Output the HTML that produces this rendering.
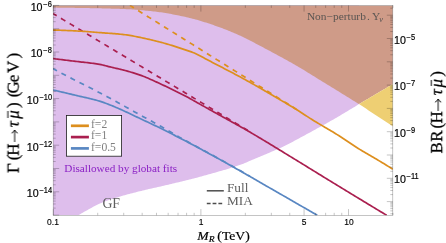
<!DOCTYPE html>
<html><head><meta charset="utf-8"><title>plot</title>
<style>
html,body{margin:0;padding:0;background:#fff;}
#c{position:relative;width:446px;height:243px;overflow:hidden;background:#fff;will-change:transform;
   font-family:"Liberation Sans",sans-serif;}
#c div{position:absolute;white-space:nowrap;line-height:1;}
.yl{font-size:11px;color:#000;-webkit-text-stroke:0.2px #000;transform:scaleX(0.97);}
.yl .sup{font-size:8.3px;position:relative;top:-4.0px;display:inline-block;transform:scaleX(0.93);transform-origin:0 50%;margin-left:0.5px;margin-right:-0.6px;}
.xl{font-size:9.1px;color:#000;-webkit-text-stroke:0.15px #000;transform:scaleX(0.93);transform-origin:50% 50%;width:40px;text-align:center;}
.xt{font-family:"Liberation Serif",serif;font-size:13.7px;color:#000;-webkit-text-stroke:0.2px #000;transform:scaleY(0.87);transform-origin:0 83.75%;}
.xt .sub{font-size:9.6px;position:relative;top:2.4px;}
.yt{font-family:"Liberation Serif",serif;font-size:17px;color:#111;
    transform:translate(-50%,-50%) rotate(-90deg);transform-origin:50% 50%;}
.arw{display:inline-block;vertical-align:-0.5px;margin:0 0.6px;}
.rt{width:243px;height:20px;transform-origin:0 0;will-change:transform;font-family:"Liberation Serif",serif;font-size:17px;color:#000;-webkit-text-stroke:0.25px #000;}
.rt .g{position:absolute;top:0;line-height:1;transform:scaleY(1.03);transform-origin:0 0.8375em;}
.rt .i{font-style:italic;}
.rt .bar{position:absolute;left:0.06em;width:0.37em;top:0.15em;height:0;border-top:0.9px solid #111;}
.mu{position:relative;}
.mu:after{content:"";position:absolute;left:22%;right:2%;top:0.20em;border-top:0.06em solid #111;}
.an{font-family:"Liberation Serif",serif;color:#5e5e5e;}
.nu{font-size:0.75em;position:relative;top:0.18em;}
</style></head>
<body><div id="c">
<svg width="446" height="243" viewBox="0 0 446 243" style="position:absolute;left:0;top:0">
<defs><clipPath id="cp"><rect x="53.2" y="5.4" width="339.6" height="209.9"/></clipPath></defs>
<g clip-path="url(#cp)">
<path d="M53.20,215.30 L78.20,215.30 L79.70,214.43 L81.20,213.57 L82.70,212.71 L84.21,211.86 L85.71,211.01 L87.21,210.17 L88.71,209.34 L90.21,208.50 L91.71,207.65 L93.22,206.82 L94.72,206.01 L96.22,205.23 L97.72,204.51 L99.22,203.81 L100.72,203.14 L102.23,202.50 L103.73,201.91 L105.23,201.35 L106.73,200.81 L108.23,200.28 L109.73,199.77 L111.24,199.27 L112.74,198.79 L114.24,198.31 L115.74,197.85 L117.24,197.39 L118.74,196.94 L120.24,196.50 L121.75,196.06 L123.25,195.62 L124.75,195.19 L126.25,194.77 L127.75,194.36 L129.25,193.95 L130.76,193.55 L132.26,193.16 L133.76,192.77 L135.26,192.38 L136.76,192.00 L138.26,191.62 L139.77,191.25 L141.27,190.88 L142.77,190.51 L144.27,190.16 L145.77,189.81 L147.27,189.46 L148.78,189.12 L150.28,188.79 L151.78,188.45 L153.28,188.12 L154.78,187.79 L156.28,187.45 L157.79,187.11 L159.29,186.77 L160.79,186.42 L162.29,186.06 L163.79,185.71 L165.29,185.36 L166.79,185.01 L168.30,184.65 L169.80,184.30 L171.30,183.94 L172.80,183.59 L174.30,183.23 L175.80,182.87 L177.31,182.51 L178.81,182.15 L180.31,181.79 L181.81,181.42 L183.31,181.06 L184.81,180.69 L186.32,180.32 L187.82,179.94 L189.32,179.57 L190.82,179.19 L192.32,178.81 L193.82,178.42 L195.33,178.04 L196.83,177.65 L198.33,177.25 L199.83,176.84 L201.33,176.43 L202.83,176.01 L204.33,175.59 L205.84,175.16 L207.34,174.74 L208.84,174.31 L210.34,173.89 L211.84,173.47 L213.34,173.05 L214.85,172.64 L216.35,172.21 L217.85,171.79 L219.35,171.37 L220.85,170.94 L222.35,170.51 L223.86,170.07 L225.36,169.63 L226.86,169.19 L228.36,168.73 L229.86,168.27 L231.36,167.80 L232.87,167.33 L234.37,166.84 L235.87,166.34 L237.37,165.84 L238.87,165.32 L240.37,164.79 L241.87,164.25 L243.38,163.67 L244.88,163.05 L246.38,162.39 L247.88,161.73 L249.38,161.07 L250.88,160.42 L252.39,159.78 L253.89,159.15 L255.39,158.52 L256.89,157.89 L258.39,157.27 L259.89,156.65 L261.40,156.02 L262.90,155.40 L264.40,154.77 L265.90,154.15 L267.40,153.52 L268.90,152.89 L270.41,152.25 L271.91,151.61 L273.41,150.97 L274.91,150.31 L276.41,149.66 L277.91,148.99 L279.41,148.31 L280.92,147.63 L282.42,146.94 L283.92,146.24 L285.42,145.52 L286.92,144.79 L288.42,144.04 L289.93,143.27 L291.43,142.47 L292.93,141.67 L294.43,140.85 L295.93,140.02 L297.43,139.20 L298.94,138.38 L300.44,137.56 L301.94,136.75 L303.44,135.94 L304.94,135.13 L306.44,134.32 L307.95,133.51 L309.45,132.70 L310.95,131.89 L312.45,131.07 L313.95,130.26 L315.45,129.44 L316.96,128.62 L318.46,127.80 L319.96,126.98 L321.46,126.15 L322.96,125.32 L324.46,124.48 L325.96,123.64 L327.47,122.80 L328.97,121.95 L330.47,121.10 L331.97,120.25 L333.47,119.38 L334.97,118.52 L336.48,117.65 L337.98,116.77 L339.48,115.89 L340.98,115.01 L342.48,114.12 L343.98,113.23 L345.49,112.33 L346.99,111.43 L348.49,110.53 L349.99,109.62 L351.49,108.71 L352.99,107.79 L354.50,106.88 L356.00,105.95 L357.50,105.03 L359.00,104.10 L359.00,5.40 L53.20,5.40Z" fill="#debeec"/>
<path d="M53.20,5.40 L53.00,7.60 L54.50,7.61 L56.00,7.62 L57.50,7.64 L59.00,7.65 L60.50,7.67 L62.00,7.69 L63.50,7.70 L65.00,7.72 L66.50,7.74 L68.00,7.76 L69.50,7.78 L71.00,7.81 L72.50,7.83 L74.00,7.85 L75.50,7.88 L77.00,7.90 L78.50,7.93 L80.00,7.95 L81.50,7.98 L83.00,8.01 L84.50,8.04 L86.00,8.06 L87.50,8.09 L89.00,8.12 L90.50,8.15 L92.00,8.18 L93.50,8.21 L95.00,8.24 L96.50,8.27 L98.00,8.30 L99.50,8.33 L101.00,8.37 L102.50,8.40 L104.00,8.44 L105.50,8.47 L107.00,8.51 L108.50,8.55 L110.00,8.59 L111.50,8.63 L113.00,8.67 L114.50,8.71 L116.00,8.76 L117.50,8.81 L119.00,8.86 L120.50,8.91 L122.00,8.97 L123.50,9.02 L125.00,9.08 L126.50,9.14 L128.00,9.21 L129.50,9.28 L131.00,9.35 L132.50,9.44 L134.00,9.54 L135.50,9.65 L137.00,9.78 L138.50,9.91 L140.00,10.05 L141.50,10.19 L143.00,10.34 L144.50,10.49 L146.00,10.64 L147.50,10.79 L149.00,10.94 L150.50,11.10 L152.00,11.26 L153.50,11.42 L155.00,11.59 L156.50,11.77 L158.00,11.95 L159.50,12.14 L161.00,12.33 L162.50,12.54 L164.00,12.75 L165.50,12.97 L167.00,13.20 L168.50,13.46 L170.00,13.75 L171.50,14.06 L173.00,14.38 L174.50,14.70 L176.00,15.01 L177.50,15.31 L179.00,15.62 L180.50,15.93 L182.00,16.24 L183.50,16.55 L185.00,16.87 L186.50,17.20 L188.00,17.54 L189.50,17.89 L191.00,18.25 L192.50,18.63 L194.00,19.02 L195.50,19.43 L197.00,19.85 L198.50,20.29 L200.00,20.73 L201.50,21.19 L203.00,21.65 L204.50,22.13 L206.00,22.61 L207.50,23.10 L209.00,23.59 L210.50,24.09 L212.00,24.60 L213.50,25.11 L215.00,25.63 L216.50,26.16 L218.00,26.69 L219.50,27.23 L221.00,27.78 L222.50,28.34 L224.00,28.91 L225.50,29.49 L227.00,30.08 L228.50,30.67 L230.00,31.28 L231.50,31.89 L233.00,32.52 L234.50,33.15 L236.00,33.80 L237.50,34.46 L239.00,35.14 L240.50,35.83 L242.00,36.54 L243.50,37.27 L245.00,38.00 L246.50,38.75 L248.00,39.51 L249.50,40.28 L251.00,41.05 L252.50,41.84 L254.00,42.62 L255.50,43.41 L257.00,44.20 L258.50,45.00 L260.00,45.79 L261.50,46.58 L263.00,47.37 L264.50,48.16 L266.00,48.94 L267.50,49.74 L269.00,50.53 L270.50,51.33 L272.00,52.14 L273.50,52.95 L275.00,53.76 L276.50,54.57 L278.00,55.39 L279.50,56.21 L281.00,57.03 L282.50,57.86 L284.00,58.68 L285.50,59.50 L287.00,60.33 L288.50,61.15 L290.00,61.98 L291.50,62.81 L293.00,63.66 L294.50,64.51 L296.00,65.38 L297.50,66.26 L299.00,67.15 L300.50,68.05 L302.00,68.96 L303.50,69.87 L305.00,70.78 L306.50,71.71 L308.00,72.63 L309.50,73.56 L311.00,74.49 L312.50,75.42 L314.00,76.36 L315.50,77.29 L317.00,78.21 L318.50,79.14 L320.00,80.06 L321.50,80.98 L323.00,81.90 L324.50,82.82 L326.00,83.74 L327.50,84.66 L329.00,85.59 L330.50,86.51 L332.00,87.43 L333.50,88.35 L335.00,89.28 L336.50,90.20 L338.00,91.12 L339.50,92.05 L341.00,92.97 L342.50,93.90 L344.00,94.82 L345.50,95.75 L347.00,96.67 L348.50,97.60 L350.00,98.53 L351.50,99.46 L353.00,100.38 L354.50,101.31 L356.00,102.24 L357.50,103.17 L359.00,104.10 L359.00,104.10 L360.54,103.19 L362.07,102.28 L363.61,101.37 L365.15,100.46 L366.68,99.55 L368.22,98.65 L369.75,97.74 L371.29,96.83 L372.83,95.92 L374.36,95.01 L375.90,94.10 L377.44,93.19 L378.97,92.28 L380.51,91.37 L382.05,90.46 L383.58,89.55 L385.12,88.65 L386.65,87.74 L388.19,86.83 L389.73,85.92 L391.26,85.01 L392.80,84.10 L392.80,5.40Z" fill="#cf9b88"/>
<path d="M359.00,104.10 L360.54,103.19 L362.07,102.28 L363.61,101.37 L365.15,100.46 L366.68,99.55 L368.22,98.65 L369.75,97.74 L371.29,96.83 L372.83,95.92 L374.36,95.01 L375.90,94.10 L377.44,93.19 L378.97,92.28 L380.51,91.37 L382.05,90.46 L383.58,89.55 L385.12,88.65 L386.65,87.74 L388.19,86.83 L389.73,85.92 L391.26,85.01 L392.80,84.10 L392.80,126.20 L391.26,125.20 L389.73,124.19 L388.19,123.19 L386.65,122.18 L385.12,121.18 L383.58,120.17 L382.05,119.17 L380.51,118.16 L378.97,117.16 L377.44,116.15 L375.90,115.15 L374.36,114.15 L372.83,113.14 L371.29,112.14 L369.75,111.13 L368.22,110.13 L366.68,109.12 L365.15,108.12 L363.61,107.11 L362.07,106.11 L360.54,105.10 L359.00,104.10Z" fill="#eecf73"/>
<path d="M53.00,68.80 L54.50,69.58 L56.01,70.36 L57.51,71.14 L59.02,71.92 L60.52,72.70 L62.02,73.48 L63.53,74.26 L65.03,75.04 L66.53,75.81 L68.04,76.58 L69.54,77.36 L71.05,78.12 L72.55,78.89 L74.05,79.66 L75.56,80.43 L77.06,81.19 L78.56,81.96 L80.07,82.72 L81.57,83.49 L83.08,84.25 L84.58,85.02 L86.08,85.79 L87.59,86.55 L89.09,87.32 L90.60,88.09 L92.10,88.86 L93.60,89.64 L95.11,90.41 L96.61,91.19 L98.11,91.97 L99.62,92.75 L101.12,93.53 L102.63,94.32 L104.13,95.11 L105.63,95.91 L107.14,96.71 L108.64,97.51 L110.15,98.32 L111.65,99.13 L113.15,99.95 L114.66,100.78 L116.16,101.60 L117.66,102.44 L119.17,103.27 L120.67,104.11 L122.18,104.95 L123.68,105.79 L125.18,106.63 L126.69,107.47 L128.19,108.32 L129.69,109.16 L131.20,110.00 L132.70,110.84 L134.21,111.67 L135.71,112.51 L137.21,113.34 L138.72,114.16 L140.22,114.99 L141.73,115.81 L143.23,116.63 L144.73,117.46 L146.24,118.28 L147.74,119.10 L149.24,119.92 L150.75,120.75 L152.25,121.57 L153.76,122.40 L155.26,123.23 L156.76,124.06 L158.27,124.90 L159.77,125.75 L161.27,126.59 L162.78,127.44 L164.28,128.31 L165.79,129.18 L167.29,130.06 L168.79,130.95 L170.30,131.84 L171.80,132.73 L173.31,133.62 L174.81,134.50 L176.31,135.38 L177.82,136.25 L179.32,137.12 L180.82,137.96 L182.33,138.80 L183.83,139.64 L185.34,140.46 L186.84,141.28 L188.34,142.10 L189.85,142.91 L191.35,143.72 L192.85,144.53 L194.36,145.34 L195.86,146.15 L197.37,146.97 L198.87,147.78 L200.37,148.60 L201.88,149.43 L203.38,150.25 L204.89,151.07 L206.39,151.89 L207.89,152.71 L209.40,153.54 L210.90,154.36 L212.40,155.18 L213.91,156.00 L215.41,156.83 L216.92,157.65 L218.42,158.48 L219.92,159.31 L221.43,160.13 L222.93,160.97 L224.44,161.80 L225.94,162.63 L227.44,163.47 L228.95,164.31 L230.45,165.15 L231.95,166.00 L233.46,166.84 L234.96,167.69 L236.47,168.55 L237.97,169.40 L239.47,170.26 L240.98,171.11 L242.48,171.97 L243.98,172.84 L245.49,173.70 L246.99,174.56 L248.50,175.43 L250.00,176.30" fill="none" stroke="#5987c2" stroke-width="1.7" stroke-dasharray="5.1 5.03" stroke-dashoffset="0.63"/>
<path d="M53.00,13.54 L54.50,14.44 L56.01,15.34 L57.51,16.25 L59.02,17.15 L60.52,18.05 L62.02,18.95 L63.53,19.86 L65.03,20.76 L66.53,21.66 L68.04,22.56 L69.54,23.47 L71.05,24.37 L72.55,25.27 L74.05,26.17 L75.56,27.07 L77.06,27.98 L78.56,28.88 L80.07,29.78 L81.57,30.68 L83.08,31.59 L84.58,32.49 L86.08,33.39 L87.59,34.29 L89.09,35.19 L90.60,36.10 L92.10,37.00 L93.60,37.90 L95.11,38.80 L96.61,39.71 L98.11,40.61 L99.62,41.51 L101.12,42.41 L102.63,43.32 L104.13,44.22 L105.63,45.12 L107.14,46.02 L108.64,46.92 L110.15,47.83 L111.65,48.73 L113.15,49.63 L114.66,50.53 L116.16,51.44 L117.66,52.34 L119.17,53.24 L120.67,54.14 L122.18,55.05 L123.68,55.95 L125.18,56.85 L126.69,57.75 L128.19,58.65 L129.69,59.56 L131.20,60.46 L132.70,61.36 L134.21,62.26 L135.71,63.17 L137.21,64.07 L138.72,64.97 L140.22,65.87 L141.73,66.78 L143.23,67.68 L144.73,68.58 L146.24,69.48 L147.74,70.38 L149.24,71.29 L150.75,72.19 L152.25,73.09 L153.76,73.99 L155.26,74.90 L156.76,75.80 L158.27,76.70 L159.77,77.60 L161.27,78.50 L162.78,79.41 L164.28,80.31 L165.79,81.21 L167.29,82.11 L168.79,83.02 L170.30,83.92 L171.80,84.82 L173.31,85.72 L174.81,86.63 L176.31,87.53 L177.82,88.43 L179.32,89.33 L180.82,90.23 L182.33,91.14 L183.83,92.04 L185.34,92.94 L186.84,93.84 L188.34,94.75 L189.85,95.65 L191.35,96.55 L192.85,97.45 L194.36,98.36 L195.86,99.26 L197.37,100.16 L198.87,101.06 L200.37,101.96 L201.88,102.87 L203.38,103.77 L204.89,104.67 L206.39,105.57 L207.89,106.48 L209.40,107.38 L210.90,108.28 L212.40,109.18 L213.91,110.09 L215.41,110.99 L216.92,111.89 L218.42,112.79 L219.92,113.69 L221.43,114.60 L222.93,115.50 L224.44,116.40 L225.94,117.30 L227.44,118.21 L228.95,119.11 L230.45,120.01 L231.95,120.91 L233.46,121.81 L234.96,122.72 L236.47,123.62 L237.97,124.52 L239.47,125.42 L240.98,126.33 L242.48,127.23 L243.98,128.13 L245.49,129.03 L246.99,129.94 L248.50,130.84 L250.00,131.74" fill="none" stroke="#aa1f4f" stroke-width="1.7" stroke-dasharray="5.1 5.03" stroke-dashoffset="0.82"/>
<path d="M129.90,5.40 L131.41,6.34 L132.91,7.28 L134.42,8.22 L135.92,9.16 L137.43,10.10 L138.93,11.03 L140.44,11.97 L141.94,12.91 L143.45,13.85 L144.95,14.79 L146.46,15.73 L147.96,16.67 L149.47,17.61 L150.97,18.55 L152.48,19.49 L153.98,20.42 L155.49,21.36 L157.00,22.30 L158.50,23.24 L160.01,24.18 L161.51,25.12 L163.02,26.06 L164.52,27.00 L166.03,27.94 L167.53,28.88 L169.04,29.81 L170.54,30.75 L172.05,31.69 L173.55,32.63 L175.06,33.57 L176.56,34.51 L178.07,35.45 L179.58,36.39 L181.08,37.33 L182.59,38.27 L184.09,39.20 L185.60,40.14 L187.10,41.08 L188.61,42.02 L190.11,42.96 L191.62,43.90 L193.12,44.84 L194.63,45.78 L196.13,46.72 L197.64,47.66 L199.14,48.59 L200.65,49.53 L202.15,50.47 L203.66,51.41 L205.17,52.35 L206.67,53.29 L208.18,54.23 L209.68,55.17 L211.19,56.11 L212.69,57.05 L214.20,57.98 L215.70,58.92 L217.21,59.86 L218.71,60.80 L220.22,61.74 L221.72,62.68 L223.23,63.62 L224.73,64.56 L226.24,65.50 L227.75,66.44 L229.25,67.37 L230.76,68.31 L232.26,69.25 L233.77,70.19 L235.27,71.13 L236.78,72.07 L238.28,73.01 L239.79,73.95 L241.29,74.89 L242.80,75.83 L244.30,76.76 L245.81,77.70 L247.31,78.64 L248.82,79.58 L250.32,80.52 L251.83,81.46 L253.34,82.40 L254.84,83.34 L256.35,84.28 L257.85,85.22 L259.36,86.16 L260.86,87.09 L262.37,88.03 L263.87,88.97 L265.38,89.91 L266.88,90.85 L268.39,91.79 L269.89,92.73 L271.40,93.67 L272.90,94.61 L274.41,95.55 L275.92,96.48 L277.42,97.42 L278.93,98.36 L280.43,99.30 L281.94,100.24 L283.44,101.18 L284.95,102.12 L286.45,103.06 L287.96,104.00 L289.46,104.94 L290.97,105.87 L292.47,106.81 L293.98,107.75 L295.48,108.69 L296.99,109.63 L298.49,110.57 L300.00,111.51" fill="none" stroke="#dd8f1e" stroke-width="1.7" stroke-dasharray="5.1 5.03" stroke-dashoffset="0.38"/>
<path d="M53.00,90.00 L54.50,90.34 L56.00,90.69 L57.51,91.03 L59.01,91.38 L60.51,91.73 L62.01,92.08 L63.51,92.43 L65.01,92.78 L66.52,93.13 L68.02,93.48 L69.52,93.84 L71.02,94.19 L72.52,94.55 L74.02,94.91 L75.53,95.27 L77.03,95.63 L78.53,95.98 L80.03,96.33 L81.53,96.67 L83.03,97.01 L84.54,97.35 L86.04,97.69 L87.54,98.04 L89.04,98.39 L90.54,98.75 L92.04,99.11 L93.55,99.49 L95.05,99.88 L96.55,100.28 L98.05,100.70 L99.55,101.14 L101.05,101.60 L102.56,102.10 L104.06,102.63 L105.56,103.18 L107.06,103.75 L108.56,104.34 L110.06,104.93 L111.57,105.53 L113.07,106.14 L114.57,106.77 L116.07,107.41 L117.57,108.06 L119.08,108.72 L120.58,109.39 L122.08,110.07 L123.58,110.75 L125.08,111.45 L126.58,112.14 L128.09,112.85 L129.59,113.55 L131.09,114.27 L132.59,114.98 L134.09,115.69 L135.59,116.41 L137.10,117.12 L138.60,117.83 L140.10,118.54 L141.60,119.25 L143.10,119.95 L144.60,120.66 L146.11,121.36 L147.61,122.06 L149.11,122.76 L150.61,123.47 L152.11,124.18 L153.61,124.90 L155.12,125.62 L156.62,126.34 L158.12,127.08 L159.62,127.81 L161.12,128.56 L162.62,129.30 L164.13,130.05 L165.63,130.80 L167.13,131.56 L168.63,132.32 L170.13,133.08 L171.63,133.84 L173.14,134.61 L174.64,135.38 L176.14,136.15 L177.64,136.92 L179.14,137.70 L180.64,138.47 L182.15,139.25 L183.65,140.04 L185.15,140.82 L186.65,141.61 L188.15,142.40 L189.66,143.19 L191.16,143.98 L192.66,144.78 L194.16,145.57 L195.66,146.37 L197.16,147.17 L198.67,147.98 L200.17,148.78 L201.67,149.58 L203.17,150.39 L204.67,151.20 L206.17,152.01 L207.68,152.82 L209.18,153.64 L210.68,154.45 L212.18,155.27 L213.68,156.08 L215.18,156.90 L216.69,157.72 L218.19,158.54 L219.69,159.37 L221.19,160.20 L222.69,161.03 L224.19,161.87 L225.70,162.71 L227.20,163.55 L228.70,164.39 L230.20,165.24 L231.70,166.08 L233.20,166.93 L234.71,167.78 L236.21,168.64 L237.71,169.49 L239.21,170.35 L240.71,171.21 L242.21,172.07 L243.72,172.93 L245.22,173.79 L246.72,174.65 L248.22,175.51 L249.72,176.38 L251.22,177.24 L252.73,178.11 L254.23,178.97 L255.73,179.84 L257.23,180.71 L258.73,181.57 L260.24,182.44 L261.74,183.31 L263.24,184.17 L264.74,185.04 L266.24,185.90 L267.74,186.77 L269.25,187.63 L270.75,188.49 L272.25,189.35 L273.75,190.21 L275.25,191.07 L276.75,191.93 L278.26,192.80 L279.76,193.66 L281.26,194.52 L282.76,195.38 L284.26,196.24 L285.76,197.11 L287.27,197.97 L288.77,198.83 L290.27,199.70 L291.77,200.56 L293.27,201.42 L294.77,202.29 L296.28,203.15 L297.78,204.02 L299.28,204.89 L300.78,205.75 L302.28,206.62 L303.78,207.48 L305.29,208.35 L306.79,209.22 L308.29,210.09 L309.79,210.96 L311.29,211.82 L312.79,212.69 L314.30,213.56 L315.80,214.43 L317.30,215.30" fill="none" stroke="#5987c2" stroke-width="1.7"/>
<path d="M53.00,58.60 L54.50,58.78 L56.01,58.97 L57.51,59.15 L59.01,59.34 L60.52,59.52 L62.02,59.70 L63.52,59.89 L65.03,60.07 L66.53,60.25 L68.03,60.44 L69.53,60.62 L71.04,60.81 L72.54,60.99 L74.04,61.17 L75.55,61.36 L77.05,61.53 L78.55,61.71 L80.06,61.87 L81.56,62.04 L83.06,62.20 L84.57,62.36 L86.07,62.52 L87.57,62.69 L89.08,62.86 L90.58,63.04 L92.08,63.22 L93.59,63.42 L95.09,63.63 L96.59,63.86 L98.09,64.10 L99.60,64.37 L101.10,64.69 L102.60,65.04 L104.11,65.41 L105.61,65.80 L107.11,66.18 L108.62,66.56 L110.12,66.93 L111.62,67.28 L113.13,67.62 L114.63,67.96 L116.13,68.30 L117.64,68.64 L119.14,68.99 L120.64,69.35 L122.15,69.72 L123.65,70.11 L125.15,70.51 L126.65,70.92 L128.16,71.34 L129.66,71.77 L131.16,72.21 L132.67,72.67 L134.17,73.13 L135.67,73.61 L137.18,74.10 L138.68,74.60 L140.18,75.12 L141.69,75.65 L143.19,76.20 L144.69,76.78 L146.20,77.41 L147.70,78.08 L149.20,78.75 L150.70,79.41 L152.21,80.08 L153.71,80.76 L155.21,81.44 L156.72,82.12 L158.22,82.82 L159.72,83.52 L161.23,84.22 L162.73,84.92 L164.23,85.64 L165.74,86.35 L167.24,87.08 L168.74,87.81 L170.25,88.55 L171.75,89.30 L173.25,90.04 L174.76,90.78 L176.26,91.51 L177.76,92.23 L179.26,92.96 L180.77,93.68 L182.27,94.42 L183.77,95.18 L185.28,95.97 L186.78,96.77 L188.28,97.59 L189.79,98.43 L191.29,99.27 L192.79,100.12 L194.30,100.98 L195.80,101.83 L197.30,102.68 L198.81,103.53 L200.31,104.37 L201.81,105.21 L203.32,106.04 L204.82,106.88 L206.32,107.72 L207.82,108.55 L209.33,109.39 L210.83,110.23 L212.33,111.06 L213.84,111.90 L215.34,112.74 L216.84,113.58 L218.35,114.41 L219.85,115.25 L221.35,116.09 L222.86,116.92 L224.36,117.75 L225.86,118.58 L227.37,119.41 L228.87,120.24 L230.37,121.06 L231.88,121.89 L233.38,122.72 L234.88,123.56 L236.38,124.39 L237.89,125.23 L239.39,126.07 L240.89,126.92 L242.40,127.77 L243.90,128.62 L245.40,129.48 L246.91,130.35 L248.41,131.22 L249.91,132.10 L251.42,132.98 L252.92,133.86 L254.42,134.74 L255.93,135.63 L257.43,136.52 L258.93,137.42 L260.44,138.32 L261.94,139.22 L263.44,140.12 L264.94,141.03 L266.45,141.93 L267.95,142.84 L269.45,143.75 L270.96,144.67 L272.46,145.58 L273.96,146.50 L275.47,147.41 L276.97,148.33 L278.47,149.25 L279.98,150.17 L281.48,151.09 L282.98,152.01 L284.49,152.93 L285.99,153.85 L287.49,154.77 L289.00,155.69 L290.50,156.61 L292.00,157.53 L293.50,158.45 L295.01,159.36 L296.51,160.28 L298.01,161.20 L299.52,162.12 L301.02,163.04 L302.52,163.97 L304.03,164.89 L305.53,165.82 L307.03,166.74 L308.54,167.67 L310.04,168.60 L311.54,169.53 L313.05,170.46 L314.55,171.38 L316.05,172.31 L317.55,173.24 L319.06,174.17 L320.56,175.09 L322.06,176.02 L323.57,176.94 L325.07,177.86 L326.57,178.78 L328.08,179.70 L329.58,180.62 L331.08,181.54 L332.59,182.46 L334.09,183.37 L335.59,184.29 L337.10,185.21 L338.60,186.13 L340.10,187.04 L341.61,187.96 L343.11,188.88 L344.61,189.79 L346.11,190.71 L347.62,191.63 L349.12,192.54 L350.62,193.46 L352.13,194.37 L353.63,195.28 L355.13,196.20 L356.64,197.11 L358.14,198.02 L359.64,198.94 L361.15,199.85 L362.65,200.76 L364.15,201.67 L365.66,202.59 L367.16,203.50 L368.66,204.41 L370.17,205.32 L371.67,206.23 L373.17,207.14 L374.67,208.04 L376.18,208.95 L377.68,209.86 L379.18,210.77 L380.69,211.68 L382.19,212.58 L383.69,213.49 L385.20,214.39 L386.70,215.30" fill="none" stroke="#aa1f4f" stroke-width="1.7"/>
<path d="M53.00,30.05 L54.50,30.08 L56.01,30.11 L57.51,30.15 L59.01,30.20 L60.52,30.25 L62.02,30.30 L63.52,30.35 L65.03,30.41 L66.53,30.48 L68.04,30.54 L69.54,30.61 L71.04,30.68 L72.55,30.75 L74.05,30.83 L75.55,30.91 L77.06,30.99 L78.56,31.07 L80.06,31.15 L81.57,31.24 L83.07,31.32 L84.57,31.42 L86.08,31.52 L87.58,31.63 L89.08,31.75 L90.59,31.88 L92.09,32.00 L93.60,32.13 L95.10,32.25 L96.60,32.38 L98.11,32.49 L99.61,32.61 L101.11,32.72 L102.62,32.82 L104.12,32.93 L105.62,33.04 L107.13,33.14 L108.63,33.25 L110.13,33.36 L111.64,33.47 L113.14,33.58 L114.65,33.70 L116.15,33.83 L117.65,33.96 L119.16,34.10 L120.66,34.24 L122.16,34.40 L123.67,34.56 L125.17,34.74 L126.67,34.95 L128.18,35.17 L129.68,35.42 L131.18,35.68 L132.69,35.96 L134.19,36.24 L135.69,36.54 L137.20,36.84 L138.70,37.14 L140.21,37.44 L141.71,37.75 L143.21,38.06 L144.72,38.38 L146.22,38.71 L147.72,39.05 L149.23,39.39 L150.73,39.75 L152.23,40.11 L153.74,40.47 L155.24,40.85 L156.74,41.23 L158.25,41.61 L159.75,42.00 L161.25,42.40 L162.76,42.80 L164.26,43.22 L165.77,43.64 L167.27,44.08 L168.77,44.52 L170.28,44.97 L171.78,45.43 L173.28,45.90 L174.79,46.37 L176.29,46.86 L177.79,47.34 L179.30,47.83 L180.80,48.33 L182.30,48.83 L183.81,49.33 L185.31,49.83 L186.82,50.34 L188.32,50.84 L189.82,51.35 L191.33,51.88 L192.83,52.43 L194.33,53.04 L195.84,53.70 L197.34,54.41 L198.84,55.15 L200.35,55.93 L201.85,56.74 L203.35,57.56 L204.86,58.38 L206.36,59.21 L207.86,60.03 L209.37,60.83 L210.87,61.61 L212.38,62.39 L213.88,63.17 L215.38,63.95 L216.89,64.73 L218.39,65.51 L219.89,66.29 L221.40,67.07 L222.90,67.85 L224.40,68.63 L225.91,69.41 L227.41,70.20 L228.91,70.98 L230.42,71.77 L231.92,72.56 L233.42,73.35 L234.93,74.15 L236.43,74.95 L237.94,75.75 L239.44,76.56 L240.94,77.37 L242.45,78.19 L243.95,79.00 L245.45,79.83 L246.96,80.66 L248.46,81.49 L249.96,82.33 L251.47,83.18 L252.97,84.03 L254.47,84.88 L255.98,85.74 L257.48,86.60 L258.98,87.46 L260.49,88.33 L261.99,89.20 L263.50,90.07 L265.00,90.95 L266.50,91.82 L268.01,92.70 L269.51,93.58 L271.01,94.45 L272.52,95.33 L274.02,96.21 L275.52,97.09 L277.03,97.97 L278.53,98.85 L280.03,99.72 L281.54,100.61 L283.04,101.49 L284.55,102.37 L286.05,103.26 L287.55,104.15 L289.06,105.05 L290.56,105.95 L292.06,106.85 L293.57,107.77 L295.07,108.69 L296.57,109.61 L298.08,110.55 L299.58,111.50 L301.08,112.47 L302.59,113.45 L304.09,114.43 L305.59,115.42 L307.10,116.40 L308.60,117.38 L310.11,118.35 L311.61,119.31 L313.11,120.24 L314.62,121.16 L316.12,122.08 L317.62,122.98 L319.13,123.87 L320.63,124.76 L322.13,125.64 L323.64,126.52 L325.14,127.40 L326.64,128.28 L328.15,129.16 L329.65,130.05 L331.15,130.94 L332.66,131.84 L334.16,132.75 L335.67,133.67 L337.17,134.61 L338.67,135.55 L340.18,136.52 L341.68,137.50 L343.18,138.48 L344.69,139.48 L346.19,140.48 L347.69,141.49 L349.20,142.49 L350.70,143.50 L352.20,144.50 L353.71,145.49 L355.21,146.48 L356.72,147.46 L358.22,148.42 L359.72,149.36 L361.23,150.29 L362.73,151.20 L364.23,152.09 L365.74,152.97 L367.24,153.84 L368.74,154.71 L370.25,155.57 L371.75,156.43 L373.25,157.30 L374.76,158.17 L376.26,159.06 L377.76,159.96 L379.27,160.86 L380.77,161.77 L382.28,162.69 L383.78,163.60 L385.28,164.53 L386.79,165.45 L388.29,166.38 L389.79,167.32 L391.30,168.26 L392.80,169.20" fill="none" stroke="#dd8f1e" stroke-width="1.7"/>
</g>
<g stroke="#000" stroke-opacity="0.42" stroke-width="0.55" fill="none">
<rect x="53.2" y="5.4" width="339.6" height="209.9"/>
<path d="M53.30,215.3 v-6.2 M53.30,5.4 v6.2"/>
<path d="M97.73,215.3 v-2.5 M97.73,5.4 v2.5"/>
<path d="M123.72,215.3 v-2.5 M123.72,5.4 v2.5"/>
<path d="M142.16,215.3 v-2.5 M142.16,5.4 v2.5"/>
<path d="M156.47,215.3 v-2.5 M156.47,5.4 v2.5"/>
<path d="M168.16,215.3 v-2.5 M168.16,5.4 v2.5"/>
<path d="M178.04,215.3 v-2.5 M178.04,5.4 v2.5"/>
<path d="M186.60,215.3 v-2.5 M186.60,5.4 v2.5"/>
<path d="M194.15,215.3 v-2.5 M194.15,5.4 v2.5"/>
<path d="M200.90,215.3 v-6.2 M200.90,5.4 v6.2"/>
<path d="M245.33,215.3 v-2.5 M245.33,5.4 v2.5"/>
<path d="M271.32,215.3 v-2.5 M271.32,5.4 v2.5"/>
<path d="M289.76,215.3 v-2.5 M289.76,5.4 v2.5"/>
<path d="M304.07,215.3 v-6.2 M304.07,5.4 v6.2"/>
<path d="M315.76,215.3 v-2.5 M315.76,5.4 v2.5"/>
<path d="M325.64,215.3 v-2.5 M325.64,5.4 v2.5"/>
<path d="M334.20,215.3 v-2.5 M334.20,5.4 v2.5"/>
<path d="M341.75,215.3 v-2.5 M341.75,5.4 v2.5"/>
<path d="M348.50,215.3 v-6.2 M348.50,5.4 v6.2"/>
<path d="M392.93,215.3 v-2.5 M392.93,5.4 v2.5"/>
<path d="M53.2,215.10 h6.0"/>
<path d="M53.2,208.09 h2.5"/>
<path d="M53.2,203.98 h2.5"/>
<path d="M53.2,201.07 h2.5"/>
<path d="M53.2,198.81 h2.5"/>
<path d="M53.2,196.97 h2.5"/>
<path d="M53.2,195.41 h2.5"/>
<path d="M53.2,194.06 h2.5"/>
<path d="M53.2,192.87 h2.5"/>
<path d="M53.2,191.80 h6.0"/>
<path d="M53.2,184.79 h2.5"/>
<path d="M53.2,180.68 h2.5"/>
<path d="M53.2,177.77 h2.5"/>
<path d="M53.2,175.51 h2.5"/>
<path d="M53.2,173.67 h2.5"/>
<path d="M53.2,172.11 h2.5"/>
<path d="M53.2,170.76 h2.5"/>
<path d="M53.2,169.57 h2.5"/>
<path d="M53.2,168.50 h6.0"/>
<path d="M53.2,161.49 h2.5"/>
<path d="M53.2,157.38 h2.5"/>
<path d="M53.2,154.47 h2.5"/>
<path d="M53.2,152.21 h2.5"/>
<path d="M53.2,150.37 h2.5"/>
<path d="M53.2,148.81 h2.5"/>
<path d="M53.2,147.46 h2.5"/>
<path d="M53.2,146.27 h2.5"/>
<path d="M53.2,145.20 h6.0"/>
<path d="M53.2,138.19 h2.5"/>
<path d="M53.2,134.08 h2.5"/>
<path d="M53.2,131.17 h2.5"/>
<path d="M53.2,128.91 h2.5"/>
<path d="M53.2,127.07 h2.5"/>
<path d="M53.2,125.51 h2.5"/>
<path d="M53.2,124.16 h2.5"/>
<path d="M53.2,122.97 h2.5"/>
<path d="M53.2,121.90 h6.0"/>
<path d="M53.2,114.89 h2.5"/>
<path d="M53.2,110.78 h2.5"/>
<path d="M53.2,107.87 h2.5"/>
<path d="M53.2,105.61 h2.5"/>
<path d="M53.2,103.77 h2.5"/>
<path d="M53.2,102.21 h2.5"/>
<path d="M53.2,100.86 h2.5"/>
<path d="M53.2,99.67 h2.5"/>
<path d="M53.2,98.60 h6.0"/>
<path d="M53.2,91.59 h2.5"/>
<path d="M53.2,87.48 h2.5"/>
<path d="M53.2,84.57 h2.5"/>
<path d="M53.2,82.31 h2.5"/>
<path d="M53.2,80.47 h2.5"/>
<path d="M53.2,78.91 h2.5"/>
<path d="M53.2,77.56 h2.5"/>
<path d="M53.2,76.37 h2.5"/>
<path d="M53.2,75.30 h6.0"/>
<path d="M53.2,68.29 h2.5"/>
<path d="M53.2,64.18 h2.5"/>
<path d="M53.2,61.27 h2.5"/>
<path d="M53.2,59.01 h2.5"/>
<path d="M53.2,57.17 h2.5"/>
<path d="M53.2,55.61 h2.5"/>
<path d="M53.2,54.26 h2.5"/>
<path d="M53.2,53.07 h2.5"/>
<path d="M53.2,52.00 h6.0"/>
<path d="M53.2,44.99 h2.5"/>
<path d="M53.2,40.88 h2.5"/>
<path d="M53.2,37.97 h2.5"/>
<path d="M53.2,35.71 h2.5"/>
<path d="M53.2,33.87 h2.5"/>
<path d="M53.2,32.31 h2.5"/>
<path d="M53.2,30.96 h2.5"/>
<path d="M53.2,29.77 h2.5"/>
<path d="M53.2,28.70 h6.0"/>
<path d="M53.2,21.69 h2.5"/>
<path d="M53.2,17.58 h2.5"/>
<path d="M53.2,14.67 h2.5"/>
<path d="M53.2,12.41 h2.5"/>
<path d="M53.2,10.57 h2.5"/>
<path d="M53.2,9.01 h2.5"/>
<path d="M53.2,7.66 h2.5"/>
<path d="M53.2,6.47 h2.5"/>
<path d="M53.2,5.40 h6.0"/>
<path d="M392.8,213.78 h-2.5"/>
<path d="M392.8,210.87 h-2.5"/>
<path d="M392.8,208.61 h-2.5"/>
<path d="M392.8,206.77 h-2.5"/>
<path d="M392.8,205.21 h-2.5"/>
<path d="M392.8,203.86 h-2.5"/>
<path d="M392.8,202.67 h-2.5"/>
<path d="M392.8,201.60 h-6.0"/>
<path d="M392.8,194.59 h-2.5"/>
<path d="M392.8,190.48 h-2.5"/>
<path d="M392.8,187.57 h-2.5"/>
<path d="M392.8,185.31 h-2.5"/>
<path d="M392.8,183.47 h-2.5"/>
<path d="M392.8,181.91 h-2.5"/>
<path d="M392.8,180.56 h-2.5"/>
<path d="M392.8,179.37 h-2.5"/>
<path d="M392.8,178.30 h-6.0"/>
<path d="M392.8,171.29 h-2.5"/>
<path d="M392.8,167.18 h-2.5"/>
<path d="M392.8,164.27 h-2.5"/>
<path d="M392.8,162.01 h-2.5"/>
<path d="M392.8,160.17 h-2.5"/>
<path d="M392.8,158.61 h-2.5"/>
<path d="M392.8,157.26 h-2.5"/>
<path d="M392.8,156.07 h-2.5"/>
<path d="M392.8,155.00 h-6.0"/>
<path d="M392.8,147.99 h-2.5"/>
<path d="M392.8,143.88 h-2.5"/>
<path d="M392.8,140.97 h-2.5"/>
<path d="M392.8,138.71 h-2.5"/>
<path d="M392.8,136.87 h-2.5"/>
<path d="M392.8,135.31 h-2.5"/>
<path d="M392.8,133.96 h-2.5"/>
<path d="M392.8,132.77 h-2.5"/>
<path d="M392.8,131.70 h-6.0"/>
<path d="M392.8,124.69 h-2.5"/>
<path d="M392.8,120.58 h-2.5"/>
<path d="M392.8,117.67 h-2.5"/>
<path d="M392.8,115.41 h-2.5"/>
<path d="M392.8,113.57 h-2.5"/>
<path d="M392.8,112.01 h-2.5"/>
<path d="M392.8,110.66 h-2.5"/>
<path d="M392.8,109.47 h-2.5"/>
<path d="M392.8,108.40 h-6.0"/>
<path d="M392.8,101.39 h-2.5"/>
<path d="M392.8,97.28 h-2.5"/>
<path d="M392.8,94.37 h-2.5"/>
<path d="M392.8,92.11 h-2.5"/>
<path d="M392.8,90.27 h-2.5"/>
<path d="M392.8,88.71 h-2.5"/>
<path d="M392.8,87.36 h-2.5"/>
<path d="M392.8,86.17 h-2.5"/>
<path d="M392.8,85.10 h-6.0"/>
<path d="M392.8,78.09 h-2.5"/>
<path d="M392.8,73.98 h-2.5"/>
<path d="M392.8,71.07 h-2.5"/>
<path d="M392.8,68.81 h-2.5"/>
<path d="M392.8,66.97 h-2.5"/>
<path d="M392.8,65.41 h-2.5"/>
<path d="M392.8,64.06 h-2.5"/>
<path d="M392.8,62.87 h-2.5"/>
<path d="M392.8,61.80 h-6.0"/>
<path d="M392.8,54.79 h-2.5"/>
<path d="M392.8,50.68 h-2.5"/>
<path d="M392.8,47.77 h-2.5"/>
<path d="M392.8,45.51 h-2.5"/>
<path d="M392.8,43.67 h-2.5"/>
<path d="M392.8,42.11 h-2.5"/>
<path d="M392.8,40.76 h-2.5"/>
<path d="M392.8,39.57 h-2.5"/>
<path d="M392.8,38.50 h-6.0"/>
<path d="M392.8,31.49 h-2.5"/>
<path d="M392.8,27.38 h-2.5"/>
<path d="M392.8,24.47 h-2.5"/>
<path d="M392.8,22.21 h-2.5"/>
<path d="M392.8,20.37 h-2.5"/>
<path d="M392.8,18.81 h-2.5"/>
<path d="M392.8,17.46 h-2.5"/>
<path d="M392.8,16.27 h-2.5"/>
<path d="M392.8,15.20 h-6.0"/>
<path d="M392.8,8.19 h-2.5"/>
</g>
<path d="M206.8,190.8 H223.8" stroke="#4d4d4d" stroke-width="1.5"/>
<path d="M206.8,203.4 H223.8" stroke="#4d4d4d" stroke-width="1.5" stroke-dasharray="3.8 2"/>
<rect x="66.5" y="115.5" width="55.1" height="40.7" fill="#ffffff" stroke="#1e1e1e" stroke-width="0.8"/>
<path d="M70.9,125.8 H88.9" stroke="#dd8f1e" stroke-width="2.7"/>
<path d="M70.9,137.1 H88.9" stroke="#aa1f4f" stroke-width="2.7"/>
<path d="M70.9,148.4 H88.9" stroke="#5987c2" stroke-width="2.7"/>
</svg>
<div class="yl" style="right:393.9px;top:1.70px;transform-origin:100% 50%">10<span class="sup">&#8722;6</span></div>
<div class="yl" style="right:393.9px;top:48.30px;transform-origin:100% 50%">10<span class="sup">&#8722;8</span></div>
<div class="yl" style="right:393.9px;top:94.90px;transform-origin:100% 50%">10<span class="sup">&#8722;10</span></div>
<div class="yl" style="right:393.9px;top:141.50px;transform-origin:100% 50%">10<span class="sup">&#8722;12</span></div>
<div class="yl" style="right:393.9px;top:188.10px;transform-origin:100% 50%">10<span class="sup">&#8722;14</span></div>
<div class="yl" style="left:394.3px;top:34.50px;transform-origin:0 50%">10<span class="sup">&#8722;5</span></div>
<div class="yl" style="left:394.3px;top:81.10px;transform-origin:0 50%">10<span class="sup">&#8722;7</span></div>
<div class="yl" style="left:394.3px;top:127.70px;transform-origin:0 50%">10<span class="sup">&#8722;9</span></div>
<div class="yl" style="left:394.3px;top:174.30px;transform-origin:0 50%">10<span class="sup">&#8722;11</span></div>
<div class="xl" style="left:33.30px;top:217.6px">0.1</div>
<div class="xl" style="left:180.90px;top:217.6px">1</div>
<div class="xl" style="left:284.07px;top:217.6px">5</div>
<div class="xl" style="left:328.50px;top:217.6px">10</div>
<div class="xt" style="left:197.3px;top:228.6px"><i>M</i><i class="sub">R</i>&thinsp;(TeV)</div>
<div class="rt" style="left:0;top:0;transform:translate(4.66px,243px) rotate(-90deg);"><span class="g" style="left:69.96px">Γ</span><span class="g" style="left:82.72px">(</span><span class="g" style="left:87.31px">H</span><svg style="position:absolute;left:100.75px;top:4.65px" width="12.4" height="10" viewBox="0 0 12.4 10"><path d="M0,5 H11.8" stroke="#111" stroke-width="1" fill="none"/><path d="M8.8,1.9 Q10.0,4.3 12.200000000000001,5 Q10.0,5.7 8.8,8.1" stroke="#111" stroke-width="1" fill="none"/></svg><span class="g i" style="left:115.81px">τ</span><span class="g i" style="left:124.37px">μ<b class="bar"></b></span><span class="g" style="left:135.02px">)</span><span class="g" style="left:145.77px">(</span><span class="g" style="left:149.53px">G</span><span class="g" style="left:160.84px">e</span><span class="g" style="left:169.96px">V</span><span class="g" style="left:184.47px">)</span></div>
<div class="rt" style="left:0;top:0;transform:translate(428.16px,243px) rotate(-90deg);"><span class="g" style="left:89.60px">B</span><span class="g" style="left:101.29px">R</span><span class="g" style="left:114.47px">(</span><span class="g" style="left:119.51px">H</span><svg style="position:absolute;left:132.00px;top:4.65px" width="12.4" height="10" viewBox="0 0 12.4 10"><path d="M0,5 H11.8" stroke="#111" stroke-width="1" fill="none"/><path d="M8.8,1.9 Q10.0,4.3 12.200000000000001,5 Q10.0,5.7 8.8,8.1" stroke="#111" stroke-width="1" fill="none"/></svg><span class="g i" style="left:147.71px">τ</span><span class="g i" style="left:155.52px">μ<b class="bar"></b></span><span class="g" style="left:166.37px">)</span></div>
<div class="an" style="left:306.9px;top:11.3px;font-size:11.4px;color:#5a5552">Non&#8722;perturb<span style="margin-left:1.2px">.</span><span style="margin-left:2.1px">Y</span><i class="nu" style="margin-left:-0.9px">&#957;</i></div>
<div class="an" style="left:64.3px;top:163.3px;font-size:11.2px;color:#8a1fc4">Disallowed by globat fits</div>
<div class="an" style="left:102.4px;top:196.9px;font-size:13.8px">GF</div>
<div class="an" style="left:226.9px;top:181.0px;font-size:13.3px">Full</div>
<div class="an" style="left:226.9px;top:194.1px;font-size:13.3px">MIA</div>
<div class="an" style="left:91.0px;top:119.10px;font-size:11.6px;color:#808080">f=2</div>
<div class="an" style="left:91.0px;top:130.10px;font-size:11.6px;color:#808080">f=1</div>
<div class="an" style="left:91.0px;top:141.60px;font-size:11.6px;color:#808080">f=0.5</div>
</div></body></html>
